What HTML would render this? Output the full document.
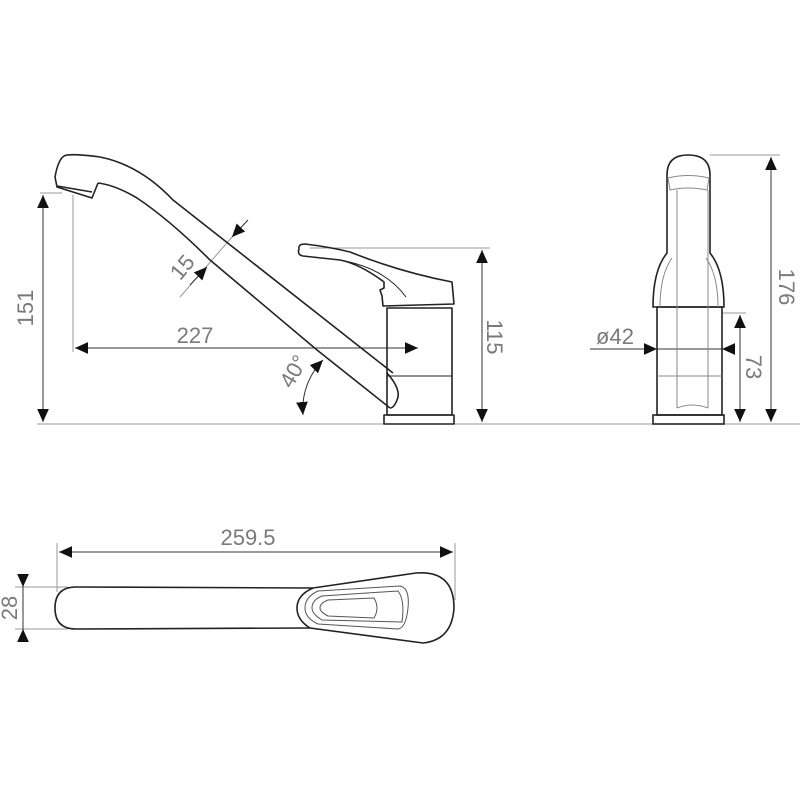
<!DOCTYPE html>
<html><head><style>
html,body{margin:0;padding:0;background:#fff;}
svg{display:block;}
text{font-family:"Liberation Sans",sans-serif;fill:#7a7a7a;font-size:22px;}
</style></head><body>
<svg width="800" height="800" viewBox="0 0 800 800" xmlns="http://www.w3.org/2000/svg">
<defs>
<marker id="a" viewBox="0 0 10 10" refX="10" refY="5" markerWidth="13" markerHeight="13" markerUnits="userSpaceOnUse" orient="auto-start-reverse">
<path d="M0,0.5L10,5L0,9.5z" fill="#111"/></marker>
</defs>
<g stroke="#999" stroke-width="1" fill="none">
<line x1="37" y1="424" x2="384" y2="424"/>
<line x1="454" y1="424" x2="653" y2="424"/>
<line x1="724" y1="424" x2="800" y2="424"/>
<line x1="40" y1="193" x2="62" y2="193"/>
<line x1="73" y1="195" x2="73" y2="352"/>
<line x1="310" y1="248" x2="490" y2="248"/>
<line x1="710" y1="155" x2="780" y2="155"/>
<line x1="722" y1="313" x2="746" y2="313"/>
<line x1="180" y1="297" x2="232" y2="237"/>
<line x1="57" y1="543" x2="57" y2="592"/>
<line x1="455" y1="543" x2="455" y2="600"/>
<line x1="15" y1="587" x2="68" y2="587"/>
<line x1="15" y1="629" x2="68" y2="629"/>
</g>
<g stroke="#333" stroke-width="1" fill="none">
<line x1="43" y1="195" x2="43" y2="422" marker-start="url(#a)" marker-end="url(#a)"/>
<line x1="75" y1="348" x2="418" y2="348" marker-start="url(#a)" marker-end="url(#a)"/>
<line x1="482" y1="250" x2="482" y2="422" marker-start="url(#a)" marker-end="url(#a)"/>
<line x1="771" y1="157" x2="771" y2="422" marker-start="url(#a)" marker-end="url(#a)"/>
<line x1="740" y1="315" x2="740" y2="422" marker-start="url(#a)" marker-end="url(#a)"/>
<line x1="590" y1="349" x2="657" y2="349" marker-end="url(#a)"/>
<line x1="657" y1="349" x2="733" y2="349"/>
<line x1="735" y1="349" x2="722" y2="349" marker-end="url(#a)"/>
<line x1="59" y1="552" x2="453" y2="552" marker-start="url(#a)" marker-end="url(#a)"/>
<line x1="23" y1="574" x2="23" y2="587" marker-end="url(#a)"/>
<line x1="23" y1="587" x2="23" y2="629"/>
<line x1="23" y1="642" x2="23" y2="629" marker-end="url(#a)"/>
<line x1="190" y1="285" x2="207" y2="267" marker-end="url(#a)"/>
<line x1="248" y1="220" x2="232" y2="237" marker-end="url(#a)"/>
<path d="M303,415 A70,70 0 0 1 323,360" marker-start="url(#a)" marker-end="url(#a)"/>
</g>
<g stroke="#222" stroke-width="1.6" fill="none" stroke-linejoin="round">
<path d="M64,156 Q70,153 100,157 Q140,165 173,200 L393,373"/>
<path d="M98,183 Q115,185 137,198 Q170,220 210,260 L317,350 L390,408"/>
<path d="M64,156 Q58,160 55,177 L57,187 L92,198 L98,183"/>
<path d="M57,186 L92,192"/>
<path d="M387,373 Q402,390 397,400 Q394,408 390,408"/>
<rect x="387" y="308" width="65" height="107"/>
<line x1="387" y1="376" x2="452" y2="376" stroke-width="1"/>
<rect x="384" y="415" width="70" height="9"/>
<path d="M299,249 Q298,244 305,244 Q330,247 350,252 Q400,272 452,282 L454,304 L383,306 L382,296 L380,290 L384,288 L384,282 Q360,264 340,260 L303,256 Q297,255 299,249Z"/>
<path d="M340,260 Q385,268 406,297" stroke-width="1"/>
</g>
<g stroke="#222" stroke-width="1.6" fill="none">
<path d="M667,253 L667,175 Q667,155 688,155 Q710,155 710,175 L710,253 Q724,270 724,307 L653,307 Q653,270 667,253Z"/>
<rect x="657" y="307" width="65" height="108"/>
<rect x="653" y="415" width="71" height="9"/>
</g>
<g stroke="#888" stroke-width="1" fill="none">
<path d="M668,178 Q688,173 709,178 L707,190 Q688,186 670,190Z"/>
<line x1="677" y1="190" x2="677" y2="408"/>
<line x1="708" y1="190" x2="708" y2="408"/>
<path d="M677,408 Q692,402 708,408"/>
<line x1="657" y1="376" x2="722" y2="376"/>
<path d="M660,307 Q660,275 672,258"/><path d="M718,307 Q718,275 706,258"/>
</g>
<g stroke="#222" stroke-width="1.6" fill="none">
<path d="M313,588 L76,587 Q55,587 55,608 Q55,629 76,629 L310,628"/>
<path d="M313,588 L416,573 Q454,570 454,608 Q452,640 423,643 L310,628 Q297,620 297,608 Q297,595 313,588Z"/>
</g>
<g stroke="#555" stroke-width="1" fill="none">
<path d="M318,591 L400,586 Q410,588 408,608 Q406,628 398,629 L318,624 Q305,618 305,608 Q305,597 318,591Z"/>
<path d="M322,596 L398,591 Q405,600 402,622 L322,620 Q312,614 312,608 Q312,600 322,596Z"/>
<path d="M328,600 L374,598 Q380,608 374,618 L328,616 Q320,612 320,608 Q320,603 328,600Z"/>
</g>
<text x="33" y="308" transform="rotate(-90 33 308)" text-anchor="middle">151</text>
<text x="195" y="343" text-anchor="middle">227</text>
<text x="188" y="272" transform="rotate(-50 188 272)" text-anchor="middle">15</text>
<text x="300" y="375" transform="rotate(-60 300 375)" text-anchor="middle">40°</text>
<text x="487" y="337" transform="rotate(90 487 337)" text-anchor="middle">115</text>
<text x="779" y="287" transform="rotate(90 779 287)" text-anchor="middle">176</text>
<text x="746" y="367" transform="rotate(90 746 367)" text-anchor="middle">73</text>
<text x="615" y="344" text-anchor="middle">ø42</text>
<text x="248" y="545" text-anchor="middle">259.5</text>
<text x="17" y="608" transform="rotate(-90 17 608)" text-anchor="middle">28</text>
</svg>
</body></html>
